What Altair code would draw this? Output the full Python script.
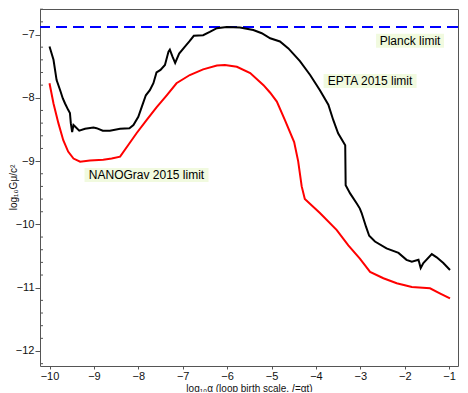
import altair as alt
import pandas as pd

# EPTA 2015 limit (black)
epta_x = [-10.0, -9.91, -9.84, -9.76, -9.70, -9.65, -9.58, -9.54, -9.52, -9.49, -9.46, -9.43, -9.33, -9.20,
          -9.01, -8.94, -8.80, -8.64, -8.41, -8.20, -8.11, -8.00, -7.92, -7.83, -7.74, -7.66, -7.59, -7.50,
          -7.40, -7.32, -7.29, -7.23, -7.17, -7.08, -6.95, -6.85, -6.75, -6.54, -6.39, -6.23, -6.01, -5.71,
          -5.41, -5.22, -5.03, -4.81, -4.62, -4.36, -4.13, -3.91, -3.72, -3.61, -3.50, -3.34, -3.33, -3.23,
          -3.08, -3.01, -2.97, -2.87, -2.80, -2.67, -2.41, -2.14, -1.96, -1.84, -1.69, -1.64, -1.58, -1.39,
          -1.28, -1.13, -0.98]
epta_y = [-7.19, -7.40, -7.72, -7.88, -8.01, -8.09, -8.19, -8.24, -8.40, -8.54, -8.43, -8.45, -8.52, -8.49,
          -8.47, -8.48, -8.52, -8.52, -8.49, -8.48, -8.43, -8.30, -8.14, -7.96, -7.88, -7.77, -7.60, -7.56,
          -7.48, -7.27, -7.24, -7.35, -7.45, -7.30, -7.19, -7.11, -7.02, -7.01, -6.96, -6.90, -6.88, -6.89,
          -6.93, -6.98, -7.06, -7.11, -7.22, -7.42, -7.64, -7.88, -8.11, -8.35, -8.56, -8.75, -9.38, -9.51,
          -9.67, -9.75, -9.82, -10.04, -10.18, -10.27, -10.38, -10.45, -10.56, -10.59, -10.56, -10.69, -10.61, -10.47,
          -10.52, -10.61, -10.72]

# NANOGrav 2015 limit (red)
nano_x = [-10.0, -9.91, -9.80, -9.69, -9.58, -9.46, -9.31, -9.09, -8.79, -8.60, -8.41, -8.23, -8.04, -7.81,
          -7.59, -7.36, -7.14, -6.84, -6.54, -6.23, -6.05, -5.78, -5.48, -5.18, -5.03, -4.88, -4.70, -4.49,
          -4.40, -4.32, -4.25, -3.91, -3.53, -3.27, -3.01, -2.78, -2.48, -2.18, -1.84, -1.43,
          -1.21, -0.98]
nano_y = [-7.77, -8.09, -8.40, -8.67, -8.85, -8.96, -9.01, -8.99, -8.98, -8.96, -8.93, -8.75, -8.56, -8.35,
          -8.15, -7.96, -7.77, -7.64, -7.55, -7.49, -7.48, -7.51, -7.61, -7.80, -7.92, -8.06, -8.35, -8.70,
          -9.00, -9.40, -9.60, -9.82, -10.09, -10.33, -10.54, -10.75, -10.85, -10.93, -10.99, -11.01,
          -11.09, -11.17]

planck_limit = -6.88

label_text = ["Planck limit", "EPTA 2015 limit", "NANOGrav 2015 limit"]
label_x = [-1.88, -2.78, -7.815]
label_y = [-7.098, -7.735, -9.22]
label_w = [68, 93, 124]

x_ticks = [-10, -9, -8, -7, -6, -5, -4, -3, -2, -1]
y_ticks = [-12, -11, -10, -9, -8, -7]
y_minor = [v / 5 for v in range(-61, -32) if v % 5 != 0]

FONT = "Liberation Sans"
xs = alt.Scale(domain=[-10.214, -0.80], nice=False, zero=False)
ys = alt.Scale(domain=[-12.237, -6.597], nice=False, zero=False)

df_e = pd.DataFrame({"x": epta_x, "y": epta_y, "o": range(len(epta_x))})
df_n = pd.DataFrame({"x": nano_x, "y": nano_y, "o": range(len(nano_x))})

xaxis = alt.Axis(values=x_ticks, title="log₁₀α (loop birth scale, 𝑙=αt)", format="d",
                 labelExpr="replace(datum.label, '-', '−')", grid=False, domain=False,
                 tickSize=3, labelPadding=1, titlePadding=2)
yaxis = alt.Axis(values=y_ticks, title="log₁₀Gμ/c²", format="d",
                 labelExpr="replace(datum.label, '-', '−')", grid=False, domain=False,
                 tickSize=5, labelPadding=1, titleX=-27, titleY=178, titleBaseline="middle",
                 titleAngle=270, titleAlign="center")

black = alt.Chart(df_e).mark_line(color="black", strokeWidth=2).encode(
    x=alt.X("x:Q", scale=xs, axis=xaxis),
    y=alt.Y("y:Q", scale=ys, axis=yaxis),
    order="o:Q")
red = alt.Chart(df_n).mark_line(color="#ff0000", strokeWidth=2).encode(
    x=alt.X("x:Q", scale=xs), y=alt.Y("y:Q", scale=ys), order="o:Q")
planck = alt.Chart(pd.DataFrame({"y": [planck_limit]})).mark_rule(
    color="#0000ff", strokeWidth=2, strokeDash=[11, 6]).encode(y=alt.Y("y:Q", scale=ys))

minor = alt.Chart(pd.DataFrame({"y": y_minor})).mark_rule(color="#555", strokeWidth=1).encode(
    y=alt.Y("y:Q", scale=ys), x=alt.value(0), x2=alt.value(3))

layers = [planck, black, red, minor]
for t, lx, ly, w in zip(label_text, label_x, label_y, label_w):
    d = pd.DataFrame({"x": [lx], "y": [ly], "t": [t]})
    box = alt.Chart(d).mark_rect(color="#f1fadf", xOffset=-w / 2, x2Offset=w / 2,
                                 yOffset=-7, y2Offset=7).encode(
        x=alt.X("x:Q", scale=xs), x2="x:Q", y=alt.Y("y:Q", scale=ys), y2="y:Q")
    txt = alt.Chart(d).mark_text(font=FONT, fontSize=12, color="black", baseline="middle").encode(
        x=alt.X("x:Q", scale=xs), y=alt.Y("y:Q", scale=ys), text="t:N")
    layers += [box, txt]

chart = alt.layer(*layers).properties(
    width=418, height=357,
    autosize=alt.AutoSizeParams(type="none"),
    padding={"left": 32, "top": 1, "right": 2, "bottom": 26},
).configure_view(stroke="#555", strokeWidth=1).configure_axis(
    labelFont=FONT, titleFont=FONT, labelFontSize=11, titleFontSize=10,
    titleFontWeight="normal", labelColor="#111", titleColor="#111",
    tickColor="#555")

chart.save("out.html", embed_options={"renderer": "svg", "actions": False})
